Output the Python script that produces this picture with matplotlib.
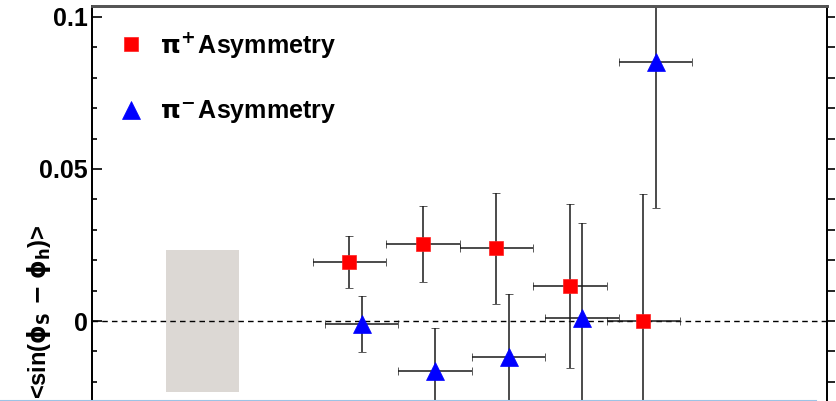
import matplotlib
matplotlib.use('Agg')
import matplotlib.pyplot as plt
from matplotlib.lines import Line2D
from matplotlib.ticker import MultipleLocator, FixedLocator

# bins (arbitrary units), pi+ / pi- asymmetries with errors
bins = [1, 2, 3, 4, 5]
bin_halfwidth = 0.5
pim_offset = 0.17
pip_asym = [0.0194, 0.0254, 0.0239, 0.0116, 0.0]
pip_err = [0.0085, 0.0125, 0.0183, 0.027, 0.0417]
pim_asym = [-0.0011, -0.0163, -0.0117, 0.0011, 0.0851]
pim_err = [0.0092, 0.014, 0.0205, 0.031, 0.048]
# systematic band
sys_center = -1.0
sys_width = 1.0
sys_half = 0.0232

ytick_vals = [0.0, 0.05, 0.1]
ytick_labels = ['0', '0.05', '0.1']

plt.rcParams['font.family'] = ['Liberation Sans', 'DejaVu Sans']
plt.rcParams['font.weight'] = 'bold'

W, H = 836, 401
fig = plt.figure(figsize=(W / 100, H / 100), dpi=100)
ax = fig.add_axes([92 / W, 0.0, (827 - 92) / W, (401 - 6) / H])

ax.bar([sys_center], [2 * sys_half], bottom=[-sys_half], width=sys_width,
       color='#dcd8d4', edgecolor='none', zorder=1)

ax.axhline(0, color='black', lw=1.0, ls=(0, (4, 3)), zorder=2)

ek = dict(ecolor='#1a1a1a', elinewidth=1.1, capsize=2.8, capthick=1.1, ls='none', zorder=3)
ax.errorbar(bins, pip_asym, xerr=bin_halfwidth, yerr=pip_err, marker='s', ms=9.5,
            mfc='#ff0000', mec='#ff2020', mew=0.5, **ek)
pim_x = [b + pim_offset for b in bins]
ax.errorbar(pim_x, pim_asym, xerr=bin_halfwidth, yerr=pim_err, marker='^', ms=13,
            mfc='#0000ff', mec='#0000ff', mew=0.5, **ek)

ax.set_xlim(-2.5, 7.5)
ax.set_ylim(-0.0263, 0.1036)

ax.yaxis.set_major_locator(FixedLocator(ytick_vals))
ax.set_yticklabels(ytick_labels)
ax.yaxis.set_minor_locator(MultipleLocator(0.01))
ax.tick_params(axis='y', which='both', direction='in', left=True, right=False,
               labelsize=18, pad=3, width=1.2, color='black')
ax.tick_params(axis='y', which='major', length=7)
ax.tick_params(axis='y', which='minor', length=3.5)
ax.set_xticks([])

# right side ticks pointing outward
ax2 = ax.twinx()
ax2.set_ylim(ax.get_ylim())
ax2.yaxis.set_major_locator(MultipleLocator(0.01))
ax2.tick_params(axis='y', direction='out', length=6, width=1.2, labelright=False)
ax2.set_xticks([])
for a in (ax, ax2):
    a.spines['bottom'].set_visible(False)
    a.spines['left'].set_linewidth(1.3)
    a.spines['right'].set_linewidth(1.3)
    a.spines['top'].set_linewidth(2)
    a.spines['top'].set_color('#555555')

ax.set_ylabel(r'<sin($\mathrm{\phi}_{\mathbf{S}}$ $-$ $\mathrm{\phi}_{\mathbf{h}}$)>',
              fontsize=17, fontweight='bold')
ax.yaxis.set_label_coords(-0.053, 0.225)

handles = [
    Line2D([], [], ls='none', marker='s', ms=9.5, mfc='#ff0000', mec='#ff2020', mew=0.5),
    Line2D([], [], ls='none', marker='^', ms=13, mfc='#0000ff', mec='#0000ff', mew=0.5),
]
labels = [r'$\mathrm{\pi}^{\mathbf{+}}\!$ Asymmetry', r'$\mathrm{\pi}^{\mathbf{-}}\!$ Asymmetry']
ax.legend(handles, labels, loc='upper left', bbox_to_anchor=(0.036, 0.94),
          frameon=False, borderpad=0, borderaxespad=0, handlelength=1.0,
          handletextpad=0.68, labelspacing=1.55,
          prop=dict(family='Liberation Sans', weight='bold', size=18))

fig.add_artist(Line2D([0, 816 / W], [0.5 / H, 0.5 / H], color='#9cc3e5', lw=1.5))

fig.savefig('out.png', dpi=100)
